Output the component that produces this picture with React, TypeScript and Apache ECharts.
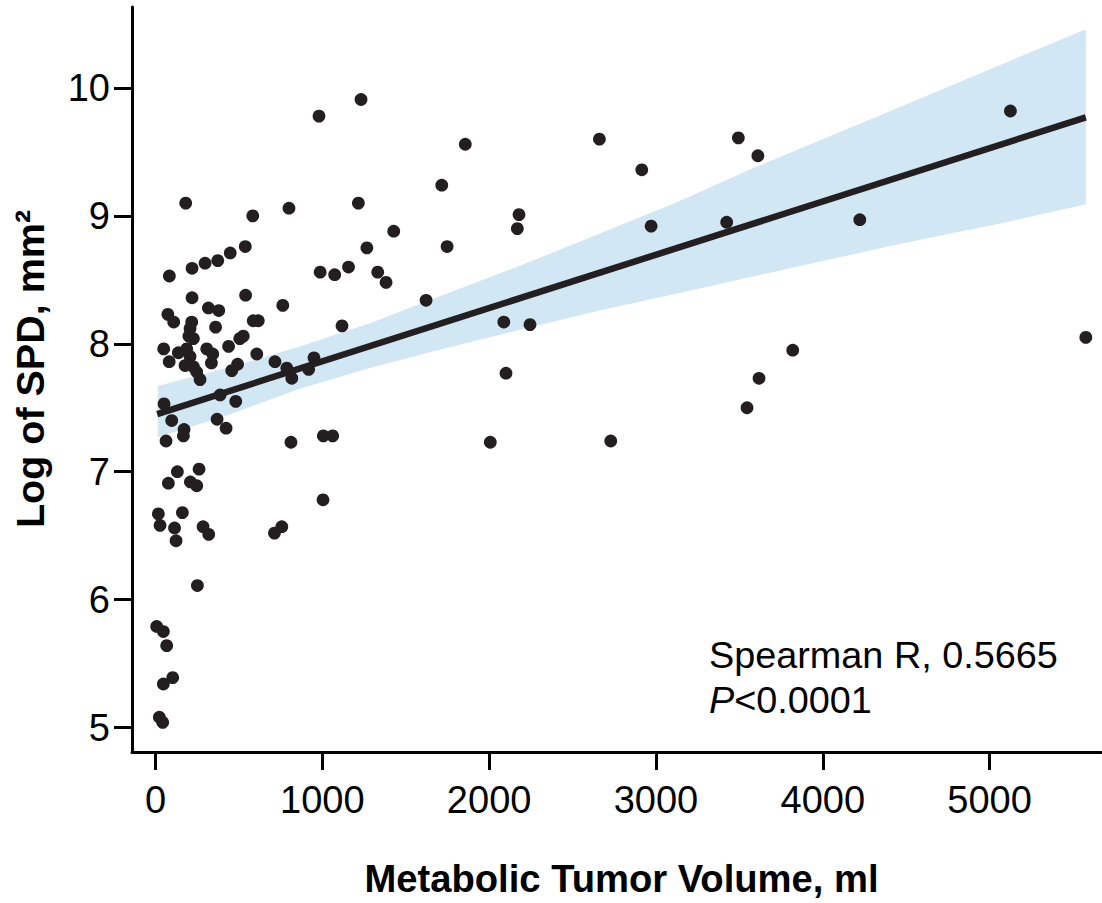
import React, { useEffect, useRef } from "react";
import * as echarts from "echarts";

// Tick labels
const xTicks = [0, 1000, 2000, 3000, 4000, 5000];
const yTicks = [5, 6, 7, 8, 9, 10];

// Metabolic tumor volume (ml)
const mtv = [
  980, 1232, 181, 800, 583, 1216, 1716, 538, 448, 373, 297, 219, 83, 1267, 1428, 987, 1074, 1157, 1332, 1382,
  1748, 1622, 540, 219, 1857, 2179, 2169, 2661, 2915, 3494, 3611, 2971, 3424, 5125, 4222, 2088, 2245, 2101, 2007, 2729,
  3820, 3618, 3546, 5577, 1118, 950, 918, 1006, 1062, 763, 317, 379, 74, 109, 217, 207, 200, 227, 360, 586,
  616, 505, 526, 438, 607, 49, 82, 137, 187, 207, 177, 227, 247, 267, 307, 343, 335, 457, 492, 716,
  787, 817, 51, 387, 481, 97, 369, 423, 171, 167, 63, 812, 131, 261, 77, 209, 247, 1004, 17, 27,
  161, 114, 123, 285, 319, 713, 757, 251, 7, 47, 67, 47, 103, 23, 43,
];

// Log of SPD (mm²)
const logSpd = [
  9.78, 9.91, 9.10, 9.06, 9.00, 9.10, 9.24, 8.76, 8.71, 8.65, 8.63, 8.59, 8.53, 8.75, 8.88, 8.56, 8.54, 8.60, 8.56, 8.48,
  8.76, 8.34, 8.38, 8.36, 9.56, 9.01, 8.90, 9.60, 9.36, 9.61, 9.47, 8.92, 8.95, 9.82, 8.97, 8.17, 8.15, 7.77, 7.23, 7.24,
  7.95, 7.73, 7.50, 8.05, 8.14, 7.89, 7.80, 7.28, 7.28, 8.30, 8.28, 8.26, 8.23, 8.17, 8.17, 8.12, 8.06, 8.04, 8.13, 8.18,
  8.18, 8.04, 8.06, 7.98, 7.92, 7.96, 7.86, 7.93, 7.96, 7.90, 7.83, 7.82, 7.78, 7.72, 7.96, 7.92, 7.85, 7.79, 7.84, 7.86,
  7.81, 7.73, 7.53, 7.60, 7.55, 7.40, 7.41, 7.34, 7.33, 7.28, 7.24, 7.23, 7.00, 7.02, 6.91, 6.92, 6.89, 6.78, 6.67, 6.58,
  6.68, 6.56, 6.46, 6.57, 6.51, 6.52, 6.57, 6.11, 5.79, 5.75, 5.64, 5.34, 5.39, 5.08, 5.04,
];

// Regression line end points
const fitX = [10, 5577];
const fitY = [7.45, 9.77];

// Confidence band read at several x positions
const bandX = [13, 450, 870, 1286, 1660, 2185, 2660, 3115, 3560, 4460, 5063, 5577];
const bandLower = [7.27, 7.45, 7.65, 7.81, 7.94, 8.11, 8.26, 8.39, 8.52, 8.78, 8.94, 9.09];
const bandUpper = [7.67, 7.82, 7.98, 8.16, 8.35, 8.61, 8.86, 9.10, 9.36, 9.85, 10.18, 10.46];

const xTitle = "Metabolic Tumor Volume, ml";
const yTitle = "Log of SPD, mm²";
const statLine1 = "Spearman R, 0.5665";
const statLine2P = "P";
const statLine2Rest = "<0.0001";

export default function App() {
  const ref = useRef<HTMLDivElement>(null);

  useEffect(() => {
    if (!ref.current) return;
    const chart = echarts.init(ref.current, null, { renderer: "svg" });
    const font = "Arial, 'Liberation Sans', Helvetica, sans-serif";
    const points = mtv.map((x, i) => [x, logSpd[i]]);
    const bandData = bandX.map((x, i) => [x, bandLower[i], bandUpper[i]]);
    const fitData = fitX.map((x, i) => [x, fitY[i]]);

    chart.setOption({
      animation: false,
      backgroundColor: "#ffffff",
      grid: { left: 132, top: 7, width: 969, height: 745, containLabel: false, outerBoundsMode: "none" },
      xAxis: {
        type: "value",
        min: -141,
        max: 5668,
        name: xTitle,
        nameLocation: "middle",
        nameGap: 107,
        nameTextStyle: {
          fontFamily: font,
          fontSize: 38.2,
          fontWeight: "bold",
          color: "#000",
          padding: [0, 0, 0, 10],
        },
        axisLine: { show: true, onZero: false, lineStyle: { color: "#000", width: 3 } },
        axisTick: { show: true, length: 18, customValues: xTicks, lineStyle: { color: "#000", width: 3 } },
        axisLabel: {
          customValues: xTicks,
          margin: 29,
          fontFamily: font,
          fontSize: 38,
          color: "#000",
          formatter: (v: number) => String(v),
        },
        splitLine: { show: false },
      },
      yAxis: {
        type: "value",
        min: 4.8085,
        max: 10.633,
        axisLine: { show: true, onZero: false, lineStyle: { color: "#000", width: 3 } },
        axisTick: { show: true, length: 18, customValues: yTicks, lineStyle: { color: "#000", width: 3 } },
        axisLabel: {
          customValues: yTicks,
          margin: 22,
          fontFamily: font,
          fontSize: 38,
          color: "#000",
          formatter: (v: number) => String(v),
        },
        splitLine: { show: false },
      },
      series: [
        {
          type: "custom",
          silent: true,
          z: 1,
          data: bandData,
          encode: { x: 0, y: [1, 2] },
          renderItem: (params: any, api: any) => {
            if (params.dataIndex !== 0) return null;
            const upper = bandX.map((x, i) => api.coord([x, bandUpper[i]]));
            const lower = bandX.map((x, i) => api.coord([x, bandLower[i]])).reverse();
            return {
              type: "polygon",
              shape: { points: upper.concat(lower) },
              style: { fill: "#d1e7f3", stroke: "none" },
            };
          },
        },
        {
          type: "line",
          silent: true,
          z: 2,
          data: fitData,
          symbol: "none",
          showSymbol: false,
          lineStyle: { color: "#231f20", width: 6.5, cap: "butt", opacity: 1 },
        },
        {
          type: "scatter",
          z: 3,
          data: points,
          symbol: "circle",
          symbolSize: 12.8,
          itemStyle: { color: "#231f20", opacity: 1 },
          emphasis: { disabled: true },
        },
      ],
      graphic: [
        {
          type: "text",
          x: 30,
          y: 369,
          rotation: Math.PI / 2,
          style: {
            text: yTitle,
            fontFamily: font,
            fontSize: 39.5,
            fontWeight: "bold",
            fill: "#000",
            align: "center",
            verticalAlign: "middle",
          },
        },
        {
          type: "text",
          x: 709,
          y: 655,
          style: {
            text: statLine1,
            fontFamily: font,
            fontSize: 37.8,
            fill: "#000",
            align: "left",
            verticalAlign: "middle",
          },
        },
        {
          type: "text",
          x: 709,
          y: 700,
          style: {
            text: "{i|" + statLine2P + "}{n|" + statLine2Rest + "}",
            fontFamily: font,
            fontSize: 37.8,
            fill: "#000",
            align: "left",
            verticalAlign: "middle",
            rich: {
              i: { fontFamily: font, fontSize: 37.8, fontStyle: "italic", fill: "#000" },
              n: { fontFamily: font, fontSize: 37.8, fill: "#000" },
            },
          },
        },
      ],
    });

    return () => chart.dispose();
  }, []);

  return (
    <div
      ref={ref}
      style={{ position: "absolute", left: 0, top: 0, width: 1102, height: 903, background: "#fff" }}
    />
  );
}
